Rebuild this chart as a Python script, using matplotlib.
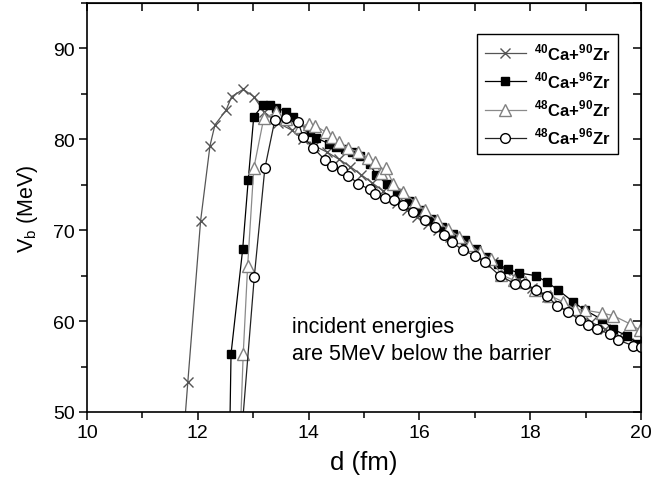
import matplotlib
matplotlib.use("Agg")
import matplotlib.pyplot as plt
from matplotlib.ticker import MultipleLocator

plt.rcParams['font.family'] = ['Liberation Sans', 'DejaVu Sans']
plt.rcParams['mathtext.fontset'] = 'custom'
plt.rcParams['mathtext.rm'] = 'Liberation Sans'
plt.rcParams['mathtext.bf'] = 'Liberation Sans:bold'

# 40Ca+90Zr (crosses)
d_ca40_zr90 = [11.74, 11.82, 12.05, 12.22, 12.31, 12.51, 12.61, 12.82, 13.01, 13.20, 13.45, 13.70,
               13.90, 14.10, 14.33, 14.55, 14.75, 14.95, 15.15, 15.35, 15.59, 15.77, 15.95,
               16.15, 16.34, 16.55, 16.80, 17.03, 17.33, 17.55, 17.80, 18.03, 18.30, 18.54,
               18.72, 18.90, 19.10, 19.35, 19.60, 19.92]
v_ca40_zr90 = [47.0, 53.3, 71.0, 79.3, 81.6, 83.2, 84.7, 85.5, 84.7, 83.0, 81.8, 81.0,
               80.0, 79.3, 78.6, 77.8, 77.0, 76.1, 75.2, 74.3, 73.0, 72.2, 71.5,
               70.7, 70.0, 69.3, 68.4, 67.7, 66.5, 65.6, 64.6, 63.6, 62.6, 61.8,
               61.2, 60.6, 59.9, 59.1, 58.4, 57.6]

# 40Ca+96Zr (filled squares)
d_ca40_zr96 = [12.57, 12.60, 12.81, 12.91, 13.01, 13.18, 13.30, 13.42, 13.60, 13.72, 14.02, 14.13,
               14.37, 14.50, 14.65, 14.78, 14.93, 15.10, 15.22, 15.41, 15.59, 15.81, 16.01,
               16.21, 16.41, 16.61, 16.82, 17.02, 17.20, 17.41, 17.60, 17.80, 18.10, 18.30,
               18.51, 18.78, 18.99, 19.29, 19.50, 19.74, 19.95]
v_ca40_zr96 = [45.0, 56.4, 67.9, 75.5, 82.5, 83.8, 83.8, 83.5, 83.0, 82.5, 80.8, 80.2,
               79.5, 79.2, 78.9, 78.6, 78.2, 77.3, 76.1, 75.1, 74.1, 73.2, 72.2,
               71.2, 70.4, 69.6, 68.9, 67.9, 67.1, 66.3, 65.7, 65.3, 65.0, 64.3,
               63.4, 62.1, 61.2, 60.2, 59.1, 58.4, 57.5]

# 48Ca+90Zr (open triangles)
d_ca48_zr90 = [12.75, 12.82, 12.90, 13.01, 13.19, 13.42, 13.60, 13.84, 14.01, 14.12, 14.31, 14.42,
               14.54, 14.72, 14.90, 15.08, 15.20, 15.30, 15.40, 15.53, 15.71, 15.92, 16.10,
               16.31, 16.52, 16.72, 16.90, 17.09, 17.30, 17.48, 17.70, 17.90, 18.09, 18.36,
               18.60, 18.81, 18.99, 19.29, 19.50, 19.80, 19.98]
v_ca48_zr90 = [45.0, 56.4, 66.1, 76.8, 82.3, 83.0, 82.2, 81.4, 81.7, 81.5, 80.8, 80.3,
               79.7, 79.0, 78.6, 77.9, 77.5, 76.3, 76.8, 75.1, 74.2, 73.1, 72.2,
               71.1, 70.1, 69.3, 68.4, 67.6, 66.8, 65.1, 64.5, 64.3, 63.4, 62.8,
               62.1, 61.3, 61.2, 60.9, 60.6, 59.7, 59.0]

# 48Ca+96Zr (open circles)
d_ca48_zr96 = [12.79, 13.02, 13.21, 13.39, 13.60, 13.81, 13.90, 14.08, 14.30, 14.42, 14.60, 14.72,
               14.90, 15.10, 15.20, 15.38, 15.55, 15.71, 15.89, 16.10, 16.28, 16.45, 16.58,
               16.79, 17.00, 17.18, 17.45, 17.73, 17.90, 18.10, 18.30, 18.48, 18.69, 18.90,
               19.05, 19.20, 19.44, 19.59, 19.86, 20.00]
v_ca48_zr96 = [47.5, 64.9, 76.8, 82.1, 82.3, 81.9, 80.3, 79.1, 77.7, 77.1, 76.6, 76.0,
               75.1, 74.5, 74.0, 73.6, 73.3, 72.8, 72.0, 71.1, 70.3, 69.5, 68.7,
               67.8, 67.2, 66.5, 65.0, 64.1, 64.1, 63.4, 62.8, 61.7, 61.0, 60.1,
               59.6, 59.1, 58.6, 57.9, 57.3, 57.2]

labels = [r'$^{\mathbf{40}}$Ca+$^{\mathbf{90}}$Zr',
          r'$^{\mathbf{40}}$Ca+$^{\mathbf{96}}$Zr',
          r'$^{\mathbf{48}}$Ca+$^{\mathbf{90}}$Zr',
          r'$^{\mathbf{48}}$Ca+$^{\mathbf{96}}$Zr']

fig = plt.figure(figsize=(6.51, 4.81), dpi=100)
ax = fig.add_axes([87/651, 1 - 413/481, 554/651, 409/481])

ax.plot(d_ca40_zr90, v_ca40_zr90, color='#555555', lw=0.9, marker='x', ms=7, mew=1.0,
        mec='#555555', label=labels[0])
ax.plot(d_ca40_zr96, v_ca40_zr96, color='black', lw=0.9, marker='s', ms=6, mfc='black',
        mec='black', label=labels[1])
ax.plot(d_ca48_zr90, v_ca48_zr90, color='#8a8a8a', lw=0.9, marker='^', ms=8, mfc='white',
        mec='#808080', mew=1.0, label=labels[2])
ax.plot(d_ca48_zr96, v_ca48_zr96, color='#222222', lw=0.9, marker='o', ms=7, mfc='white',
        mec='black', mew=1.0, label=labels[3])

ax.set_xlim(10, 20)
ax.set_ylim(50, 95)
ax.xaxis.set_major_locator(MultipleLocator(2))
ax.xaxis.set_minor_locator(MultipleLocator(1))
ax.yaxis.set_major_locator(MultipleLocator(10))
ax.yaxis.set_minor_locator(MultipleLocator(5))
ax.tick_params(which='major', direction='out', length=6, width=1.1, labelsize=14, pad=3)
ax.tick_params(which='minor', direction='out', length=4, width=1.1)
for s in ax.spines.values():
    s.set_linewidth(1.2)

top = ax.secondary_xaxis('top')
top.xaxis.set_major_locator(MultipleLocator(2))
top.xaxis.set_minor_locator(MultipleLocator(1))
top.tick_params(which='both', direction='in', length=6, width=1.1, labeltop=False)
right = ax.secondary_yaxis('right')
right.yaxis.set_major_locator(MultipleLocator(10))
right.yaxis.set_minor_locator(MultipleLocator(5))
right.tick_params(which='both', direction='in', length=6, width=1.1, labelright=False)

ax.set_xlabel('d (fm)', fontsize=18.5, labelpad=6)
ax.set_ylabel(r'V$_\mathrm{b}$ (MeV)', fontsize=15.5, labelpad=9)

ax.text(13.7, 59.4, 'incident energies', fontsize=15.5, va='center', ha='left')
ax.text(13.7, 56.4, 'are 5MeV below the barrier', fontsize=15.5, va='center', ha='left')

leg = ax.legend(loc='upper right', bbox_to_anchor=(0.958, 0.924), borderaxespad=0,
                frameon=True, fancybox=False,
                edgecolor='black', framealpha=1, prop={'weight': 'bold', 'size': 12},
                handlelength=2.5, handletextpad=0.45, labelspacing=0.45, borderpad=0.45)
leg.get_frame().set_linewidth(1.0)

fig.savefig('out.png', dpi=100)
